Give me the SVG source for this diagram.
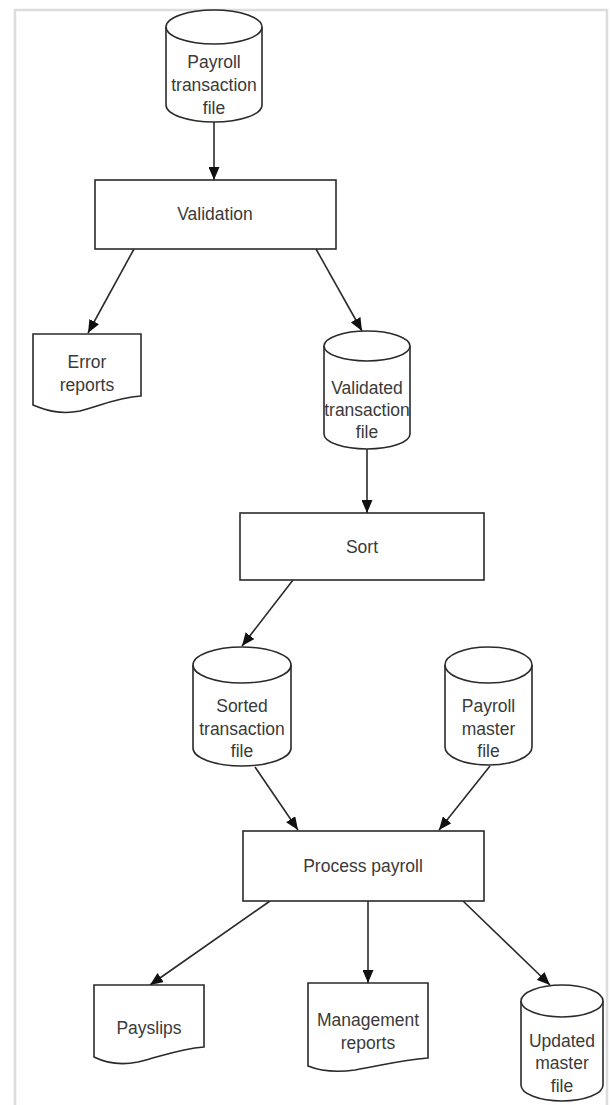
<svg xmlns="http://www.w3.org/2000/svg" width="611" height="1105" viewBox="0 0 611 1105">
  <defs>
    <style>
      .frame { fill: none; stroke: #dcdcdc; stroke-width: 2.5; }
      .shape { fill: #ffffff; stroke: #2a2a2a; stroke-width: 1.6; }
      .edge { fill: none; stroke: #2a2a2a; stroke-width: 1.6; }
      .label { font-family: "Liberation Sans", Arial, sans-serif; font-size: 17.5px; fill: #3a3a3a; text-anchor: middle; dominant-baseline: central; }
    </style>
    <marker id="arrow" viewBox="0 0 13 11" refX="13" refY="5.5" markerWidth="13" markerHeight="11" markerUnits="userSpaceOnUse" orient="auto">
      <path d="M0,0 L13,5.5 L0,11 Z" fill="#111111"/>
    </marker>
  </defs>

  <rect width="611" height="1105" fill="#ffffff"/>
  <!-- page frame, open at the bottom -->
  <path class="frame" d="M15,1105 V10 H607 V1105"/>

  <!-- connectors -->
  <g id="connectors">
    <line class="edge" x1="214" y1="122" x2="214" y2="180" marker-end="url(#arrow)"/>
    <line class="edge" x1="134" y1="249" x2="88" y2="333" marker-end="url(#arrow)"/>
    <line class="edge" x1="316" y1="249" x2="362" y2="331" marker-end="url(#arrow)"/>
    <line class="edge" x1="367" y1="449" x2="367" y2="513" marker-end="url(#arrow)"/>
    <line class="edge" x1="293" y1="580" x2="242" y2="646" marker-end="url(#arrow)"/>
    <line class="edge" x1="255" y1="767" x2="298" y2="830" marker-end="url(#arrow)"/>
    <line class="edge" x1="490" y1="766" x2="439" y2="830" marker-end="url(#arrow)"/>
    <line class="edge" x1="270" y1="901" x2="150" y2="985" marker-end="url(#arrow)"/>
    <line class="edge" x1="368" y1="901" x2="368" y2="983" marker-end="url(#arrow)"/>
    <line class="edge" x1="463" y1="901" x2="550" y2="985" marker-end="url(#arrow)"/>
  </g>

  <!-- Payroll transaction file (store) -->
  <g id="payroll-transaction-file">
    <path class="shape" d="M166,27 V105 A48,17 0 0 0 262,105 V27"/>
    <ellipse class="shape" cx="214" cy="27" rx="48" ry="17"/>
    <text class="label" x="214" y="62">Payroll</text>
    <text class="label" x="214" y="85">transaction</text>
    <text class="label" x="214" y="108">file</text>
  </g>

  <!-- Validation (process) -->
  <g id="validation">
    <rect class="shape" x="95" y="180" width="241" height="69"/>
    <text class="label" x="215" y="214">Validation</text>
  </g>

  <!-- Error reports (document) -->
  <g id="error-reports">
    <path class="shape" d="M33,334 H141 V396 C115,398 100,406 80,411 C60,415 45,410 33,405 Z"/>
    <text class="label" x="87" y="362">Error</text>
    <text class="label" x="87" y="385">reports</text>
  </g>

  <!-- Validated transaction file (store) -->
  <g id="validated-transaction-file">
    <path class="shape" d="M324,346 V434 A43,15 0 0 0 410,434 V346"/>
    <ellipse class="shape" cx="367" cy="346" rx="43" ry="15"/>
    <text class="label" x="367" y="388">Validated</text>
    <text class="label" x="367" y="410">transaction</text>
    <text class="label" x="367" y="432">file</text>
  </g>

  <!-- Sort (process) -->
  <g id="sort">
    <rect class="shape" x="240" y="513" width="244" height="67"/>
    <text class="label" x="362" y="547">Sort</text>
  </g>

  <!-- Sorted transaction file (store) -->
  <g id="sorted-transaction-file">
    <path class="shape" d="M193,665 V748 A49,18 0 0 0 291,748 V665"/>
    <ellipse class="shape" cx="242" cy="665" rx="49" ry="18"/>
    <text class="label" x="242" y="706">Sorted</text>
    <text class="label" x="242" y="729">transaction</text>
    <text class="label" x="242" y="751">file</text>
  </g>

  <!-- Payroll master file (store) -->
  <g id="payroll-master-file">
    <path class="shape" d="M445,665 V747 A43.5,18 0 0 0 532,747 V665"/>
    <ellipse class="shape" cx="488.5" cy="665" rx="43.5" ry="18"/>
    <text class="label" x="488.5" y="706">Payroll</text>
    <text class="label" x="488.5" y="729">master</text>
    <text class="label" x="488.5" y="751">file</text>
  </g>

  <!-- Process payroll (process) -->
  <g id="process-payroll">
    <rect class="shape" x="243" y="831" width="241" height="70"/>
    <text class="label" x="363" y="866">Process payroll</text>
  </g>

  <!-- Payslips (document) -->
  <g id="payslips">
    <path class="shape" d="M94,985 H204 V1047 C178,1049 160,1057 138,1062 C118,1066 104,1062 94,1057 Z"/>
    <text class="label" x="149" y="1028">Payslips</text>
  </g>

  <!-- Management reports (document) -->
  <g id="management-reports">
    <path class="shape" d="M308,983 H428 V1058 C400,1060 380,1066 355,1070 C333,1073 318,1070 308,1066 Z"/>
    <text class="label" x="368" y="1020">Management</text>
    <text class="label" x="368" y="1043">reports</text>
  </g>

  <!-- Updated master file (store) -->
  <g id="updated-master-file">
    <path class="shape" d="M521,1001 V1085 A41,16 0 0 0 603,1085 V1001"/>
    <ellipse class="shape" cx="562" cy="1001" rx="41" ry="16"/>
    <text class="label" x="562" y="1041">Updated</text>
    <text class="label" x="562" y="1063">master</text>
    <text class="label" x="562" y="1086">file</text>
  </g>
</svg>
